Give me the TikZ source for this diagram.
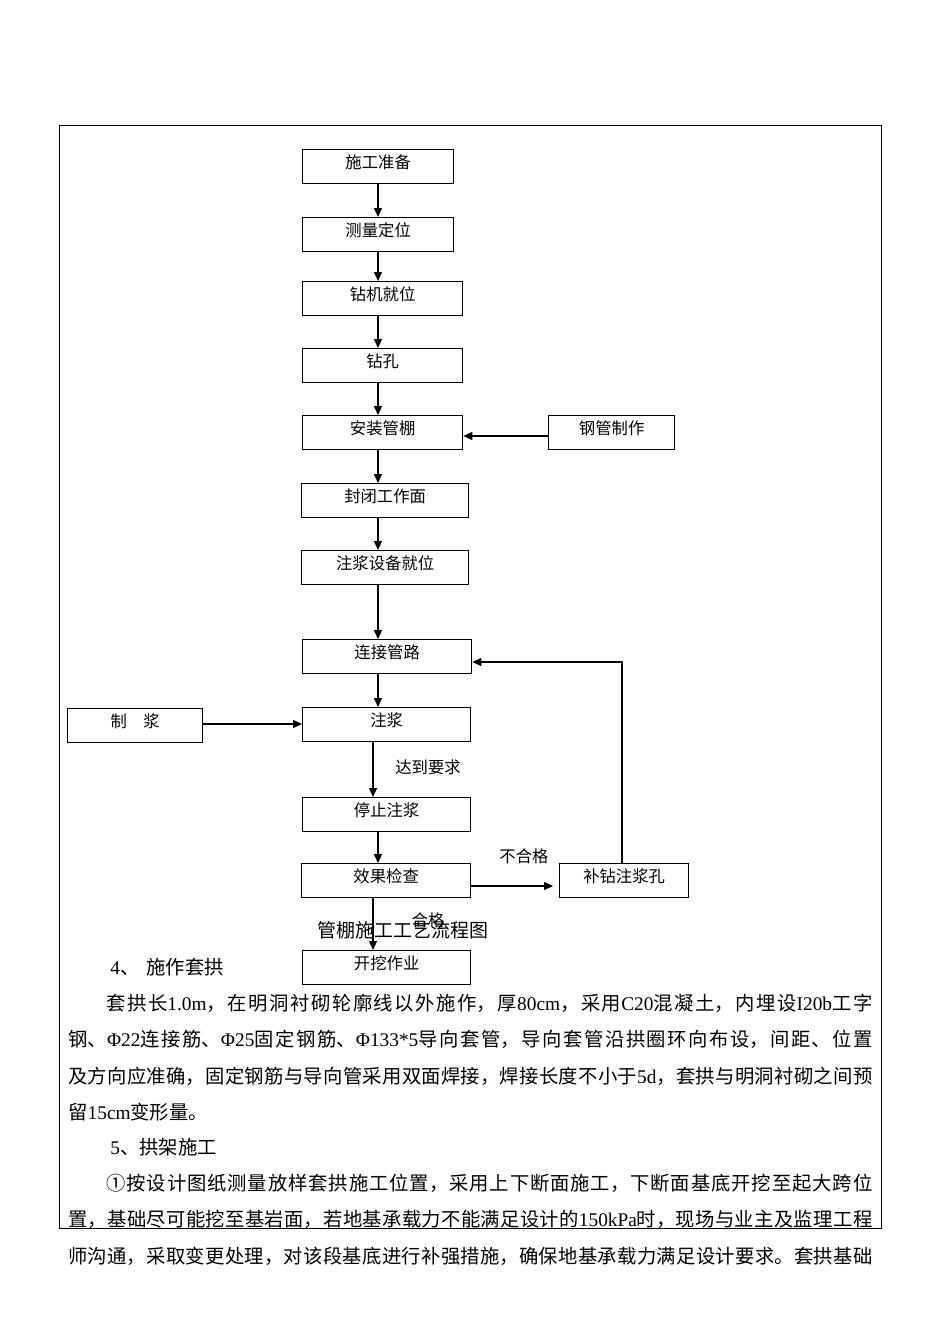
\documentclass[tikz,border=0pt]{standalone}
\usepackage{fontspec}
\setmainfont{Noto Sans CJK SC}
\newfontfamily\lat{Liberation Serif}
\usetikzlibrary{arrows.meta}
\XeTeXlinebreaklocale "zh"
\XeTeXlinebreakskip=0pt plus 2pt

\begin{document}
\begin{tikzpicture}[
    x=0.2mm, y=-0.2mm,
    every node/.style={inner sep=0pt},
    box/.style={draw, line width=0.75pt, anchor=north west,
        text height=3.8mm, text depth=3mm,
        font=\fontsize{9.3pt}{11pt}\selectfont},
    lbl/.style={font=\fontsize{9.3pt}{11pt}\selectfont},
    body/.style={anchor=base west, font=\fontsize{11pt}{7.32mm}\selectfont},
    arr/.style={-{Triangle[length=1.8mm,width=1.6mm]}, line width=0.7pt},
]

% === Page and table frame ===
\useasboundingbox (0,0) rectangle (950,1344);
\draw[line width=0.5pt] (59,125) rectangle (881,1228);

% === Main column ===
\node[box, minimum width=30.2mm] (zhunbei) at (302,149) {施工准备};
\node[box, minimum width=30.2mm] (celiang) at (302,217) {测量定位};
\node[box, minimum width=32mm]   (zuanji)  at (302,281) {钻机就位};
\node[box, minimum width=32mm]   (zuankong) at (302,348) {钻孔};
\node[box, minimum width=32mm]   (anzhuang) at (302,415) {安装管棚};
\node[box, minimum width=33.4mm] (fengbi)  at (301,483) {封闭工作面};
\node[box, minimum width=33.4mm] (shebei)  at (301,550) {注浆设备就位};
\node[box, minimum width=33.8mm] (lianjie) at (302,639) {连接管路};
\node[box, minimum width=33.6mm] (zhujiang) at (302,707) {注浆};
\node[box, minimum width=33.6mm] (tingzhi) at (302,797) {停止注浆};
\node[box, minimum width=33.8mm] (xiaoguo) at (301,863) {效果检查};
\node[box, minimum width=33.6mm] (kaiwa)   at (302,950) {开挖作业};

% === Side boxes ===
\node[box, minimum width=25.2mm] (gangguan) at (548,415) {钢管制作\hspace{7.2mm}};
\node[box, minimum width=27mm]   (zhijiang) at (67,708) {制　浆};
\node[box, minimum width=25.8mm] (buzuan)  at (559,863) {补钻注浆孔};

% === Connectors ===
\coordinate (colA) at (378,0);
\coordinate (colB) at (373,0);
\draw[arr] (zhunbei.south -| colA) -- (celiang.north -| colA);
\draw[arr] (celiang.south -| colA) -- (zuanji.north -| colA);
\draw[arr] (zuanji.south -| colA) -- (zuankong.north -| colA);
\draw[arr] (zuankong.south -| colA) -- (anzhuang.north -| colA);
\draw[arr] (anzhuang.south -| colA) -- (fengbi.north -| colA);
\draw[arr] (fengbi.south -| colA) -- (shebei.north -| colA);
\draw[arr] (shebei.south -| colA) -- (lianjie.north -| colA);
\draw[arr] (lianjie.south -| colA) -- (zhujiang.north -| colA);
\draw[arr] (zhujiang.south -| colB) -- (tingzhi.north -| colB);
\draw[arr] (tingzhi.south -| colA) -- (xiaoguo.north -| colA);
\draw[arr] (xiaoguo.south -| colB) -- (kaiwa.north -| colB);

\coordinate (rowG) at (0,436);
\draw[arr] (gangguan.west |- rowG) -- (anzhuang.east |- rowG);
\coordinate (rowZ) at (0,724);
\draw[arr] (zhijiang.east |- rowZ) -- (zhujiang.west |- rowZ);
\coordinate (rowX) at (0,886);
\draw[arr, shorten >=1.2mm] (xiaoguo.east |- rowX) -- (buzuan.west |- rowX);
\coordinate (backX) at (622,662);
\draw[arr] (buzuan.north -| backX) |- (lianjie.east |- backX);

% === Labels ===
\node[lbl] (dadao) at (428,767) {达到要求};
\node[lbl] (buhege) at (524,856) {不合格};
\node[lbl] (hege) at (428,920) {合格};
\node[font=\fontsize{10.8pt}{12pt}\selectfont] (title) at (403,930) {管棚施工工艺流程图};

% === Text below the chart ===
\node[body] (sec4) at (110,974) {{\lat 4}、\hspace{1.4mm}施作套拱};
\node[body, text width=160.8mm, align=justify] (paraA) at (68,1010)
    {\hspace*{7.6mm}套拱长{\lat 1.0m}，在明洞衬砌轮廓线以外施作，厚{\lat 80cm}，采用{\lat C20}混凝土，内埋设{\lat I20b}工字\linebreak
     钢、{\lat Φ22}连接筋、{\lat Φ25}固定钢筋、{\lat Φ133*5}导向套管，导向套管沿拱圈环向布设，间距、位置\linebreak
     及方向应准确，固定钢筋与导向管采用双面焊接，焊接长度不小于{\lat 5d}，套拱与明洞衬砌之间预\linebreak
     留{\lat 15cm}变形量。};
\node[body] (sec5) at (110,1154) {{\lat 5}、拱架施工};
\node[body, text width=160.8mm, align=justify] (paraB) at (68,1190)
    {\hspace*{7.6mm}①按设计图纸测量放样套拱施工位置，采用上下断面施工，下断面基底开挖至起大跨位\linebreak
     置，基础尽可能挖至基岩面，若地基承载力不能满足设计的{\lat 150kPa}时，现场与业主及监理工程\linebreak
     师沟通，采取变更处理，对该段基底进行补强措施，确保地基承载力满足设计要求。套拱基础\parfillskip=0pt\par};

\end{tikzpicture}
\end{document}
